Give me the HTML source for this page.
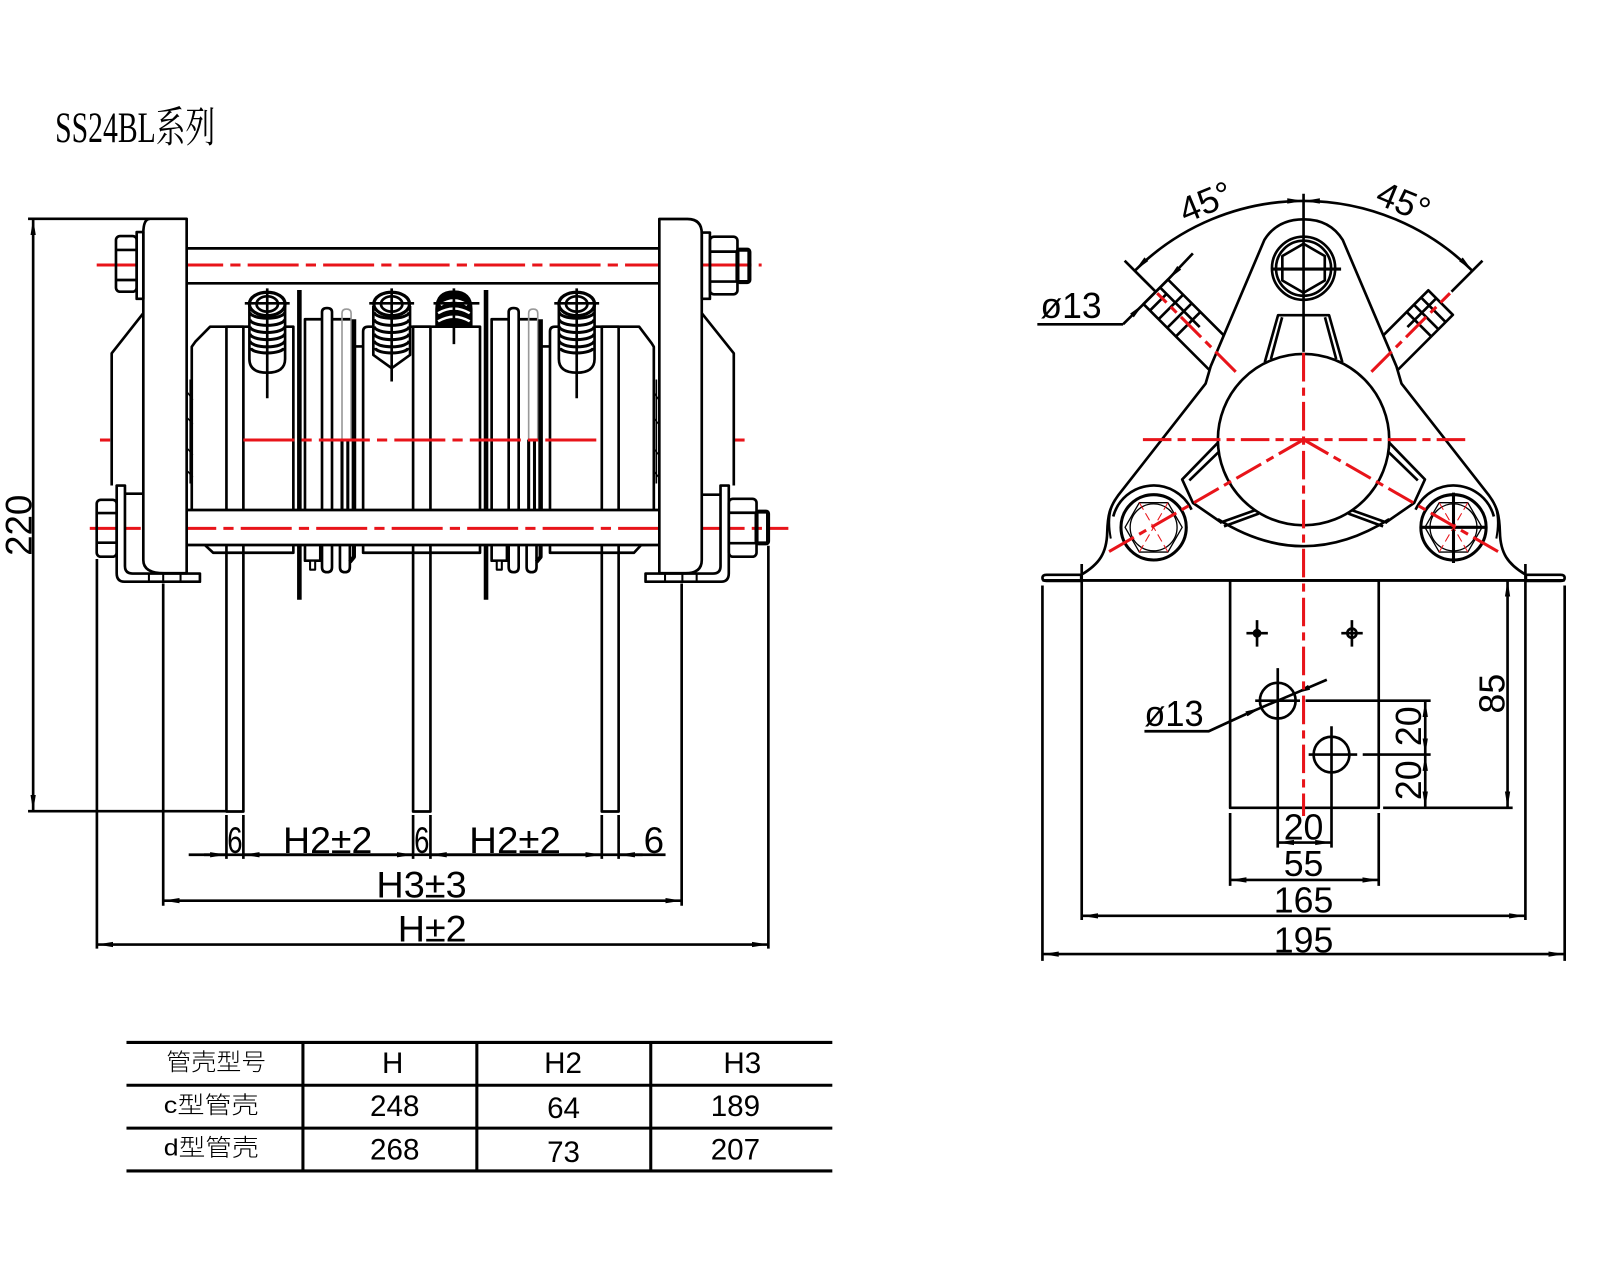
<!DOCTYPE html>
<html><head><meta charset="utf-8">
<style>
html,body{margin:0;padding:0;background:#fff;}
svg{display:block;}
text{font-family:"Liberation Sans","Noto Sans CJK SC",sans-serif;fill:#000;stroke:none;}
</style></head><body>
<svg width="1600" height="1280" viewBox="0 0 1568.63 1254.9" preserveAspectRatio="none" xmlns="http://www.w3.org/2000/svg">
<defs>
<marker id="ar" viewBox="0 0 16 6" refX="16" refY="3" markerWidth="16" markerHeight="6" markerUnits="userSpaceOnUse" orient="auto-start-reverse"><path d="M0,0.4L16,3L0,5.6z" fill="#000"/></marker>
</defs>
<rect x="0" y="0" width="1568.63" height="1254.9" fill="#fff"/>

<!-- Title -->
<text x="54" y="139" font-size="42" textLength="157" lengthAdjust="spacingAndGlyphs" style="font-family:'Liberation Serif','Noto Serif CJK SC',serif">SS24BL系列</text>

<g fill="none" stroke="#000" stroke-width="2.6" stroke-linejoin="round">

<!-- ========== LEFT DRAWING ========== -->
<!-- bodies -->
<path d="M188,500 L188,340 L191.5,335 L206,320.3 L287.6,320.3 L287.6,541.9 L209,541.9 L200.5,534 L188,534 Z" fill="#fff"/>
<path d="M356,541.9 L356,325 Q356,320.3 361,320.3 L470.6,320.3 L470.6,541.9 Z" fill="#fff"/>
<path d="M539.2,541.9 L539.2,325 Q539.2,320.3 544,320.3 L626.6,320.3 L638.9,336.6 L641,340 L641,534 L628.6,534.3 L621.6,541.9 Z" fill="#fff"/>
<path d="M346,339.6 L356,339.6 M529,339.6 L539,339.6"/>
<!-- notch lines near plates -->
<path d="M186.5,372 L186.5,474 M643.5,372 L643.5,474" stroke-width="1.6"/>
<path d="M184,385 L189,392 M184,410 L189,416 M184,440 L189,446 M184,462 L189,468 M641,385 L646,392 M641,410 L646,416 M641,440 L646,446 M641,462 L646,468" stroke-width="1.4"/>

<!-- posts -->
<rect x="222" y="320.3" width="16.6" height="475.3"/>
<rect x="405" y="320.3" width="17" height="475.3"/>
<rect x="590" y="320.3" width="16.5" height="475.3"/>

<!-- bellows zones -->
<g id="bel">
<line x1="293.5" y1="284.3" x2="293.5" y2="588" stroke-width="4.5"/>
<path d="M299,534 L299,313 L344,313"/>
<path d="M315.7,534 L315.7,306 Q315.7,302 320.6,302 Q325.5,302 325.5,306 L325.5,534" fill="#fff"/>
<path d="M335.3,431 L335.3,307 Q335.3,303 339.7,303 Q344.2,303 344.2,307 L344.2,431" stroke="#999" stroke-width="1.6"/>
<path d="M335.3,431 L335.3,534 M341,431 L341,534" stroke-width="3"/>
<line x1="347" y1="313" x2="347" y2="534" stroke-width="4.5"/>
<rect x="299" y="534" width="15" height="15.7" fill="#fff"/>
<rect x="304" y="549.7" width="5" height="8.8" fill="#fff" stroke-width="2"/>
<path d="M315.7,534 L315.7,556 Q315.7,561 320.6,561 Q325.5,561 325.5,556 L325.5,534" fill="#fff"/>
<path d="M333.3,534 L333.3,556 Q333.3,561 338.2,561 Q343,561 343,556 L343,534" fill="#fff"/>
<path d="M347,534 L347,546 L343,551" stroke-width="4"/>
</g>
<use href="#bel" transform="translate(183,0)"/>

<!-- terminals -->
<g transform="translate(262,0)">
<path d="M-17.5,300 L-17.5,352 Q-17.5,365.4 0,365.4 Q17.5,365.4 17.5,352 L17.5,300" fill="#fff"/>
<path d="M-17,306 A17,6 0 0,0 17,306 M-17,313 A17,6 0 0,0 17,313 M-17,320 A17,6 0 0,0 17,320 M-17,327 A17,6 0 0,0 17,327 M-17,334 A17,6 0 0,0 17,334 M-16,341 A16,5 0 0,0 16,341" stroke-width="3"/>
<ellipse cx="0" cy="298" rx="17.5" ry="11.5" fill="#fff" stroke-width="3.2"/>
<ellipse cx="0" cy="298" rx="10.5" ry="7.5" stroke-width="2.6"/>
<line x1="-22" y1="297.4" x2="22" y2="297.4"/>
<line x1="0" y1="282.7" x2="0" y2="390.5"/>
</g>
<g transform="translate(565.4,0)">
<path d="M-17.5,300 L-17.5,352 Q-17.5,365.4 0,365.4 Q17.5,365.4 17.5,352 L17.5,300" fill="#fff"/>
<path d="M-17,306 A17,6 0 0,0 17,306 M-17,313 A17,6 0 0,0 17,313 M-17,320 A17,6 0 0,0 17,320 M-17,327 A17,6 0 0,0 17,327 M-17,334 A17,6 0 0,0 17,334 M-16,341 A16,5 0 0,0 16,341" stroke-width="3"/>
<ellipse cx="0" cy="298" rx="17.5" ry="11.5" fill="#fff" stroke-width="3.2"/>
<ellipse cx="0" cy="298" rx="10.5" ry="7.5" stroke-width="2.6"/>
<line x1="-22" y1="297.4" x2="22" y2="297.4"/>
<line x1="0" y1="282.7" x2="0" y2="390.5"/>
</g>
<g transform="translate(384,0)">
<path d="M-18,300 L-18,348 L0,361 L18,348 L18,300" fill="#fff"/>
<path d="M-17,306 A17,6 0 0,0 17,306 M-17,313 A17,6 0 0,0 17,313 M-17,320 A17,6 0 0,0 17,320 M-17,327 A17,6 0 0,0 17,327 M-17,334 A17,6 0 0,0 17,334 M-16,341 A16,5 0 0,0 16,341" stroke-width="3"/>
<ellipse cx="0" cy="298" rx="17.5" ry="11.5" fill="#fff" stroke-width="3.2"/>
<ellipse cx="0" cy="298" rx="10.5" ry="7.5" stroke-width="2.6"/>
<line x1="-22" y1="297.4" x2="22" y2="297.4"/>
<line x1="0" y1="282.7" x2="0" y2="374"/>
</g>
<g transform="translate(445,0)">
<path d="M-17,320.3 L-17,303 Q-17,286 0,286 Q17,286 17,303 L17,320.3 Z" fill="#000"/>
<path d="M-13,299 Q0,290 13,299 M-15.5,307 Q0,298 15.5,307 M-15.5,315 Q0,306 15.5,315" stroke="#fff" stroke-width="2.4"/>
<line x1="-20" y1="297.4" x2="25" y2="297.4"/>
<line x1="0" y1="282.7" x2="0" y2="337.4"/>
</g>

<!-- rods -->
<rect x="183" y="243.5" width="463.4" height="34.3" fill="#fff"/>
<rect x="183" y="500" width="463.4" height="34.3" fill="#fff"/>

<!-- red centerlines (left) -->
<g stroke="#e8141a" stroke-width="3" stroke-dasharray="50 7 10 7">
<line x1="94.8" y1="259.8" x2="746.7" y2="259.8"/>
<line x1="88" y1="518" x2="772.9" y2="518"/>
<line x1="238.6" y1="431.4" x2="588" y2="431.4"/>
</g>
<g stroke="#e8141a" stroke-width="3">
<line x1="98" y1="431.4" x2="108" y2="431.4"/>
<line x1="720" y1="431.4" x2="730" y2="431.4"/>
</g>

<!-- brackets -->
<path d="M140.5,307 L109.5,346.4 L109.5,476"/>
<path d="M688,307 L719.4,346.4 L719.4,476"/>
<path d="M122.5,484 L140.5,484 M688,485 L706.4,485"/>
<path d="M122.5,476 L114.4,476 L114.4,562 Q114.4,570.3 122,570.3 L196,570.3 L196,562.3 L130,562.3 Q122.5,562.3 122.5,555 Z" fill="#fff"/>
<path d="M146,562.3 L146,570.3 M160,562.3 L160,570.3 M177,562.3 L177,570.3" stroke-width="2"/>
<path d="M706.4,476 L714.5,476 L714.5,562 Q714.5,570.3 707,570.3 L632.9,570.3 L632.9,562.3 L699,562.3 Q706.4,562.3 706.4,555 Z" fill="#fff"/>
<path d="M683,562.3 L683,570.3 M669,562.3 L669,570.3 M652,562.3 L652,570.3" stroke-width="2"/>

<!-- plates -->
<path d="M147,214.5 L183,214.5 L183,562 L161,562 Q140.5,562 140.5,549 L140.5,229 Q140.5,214.5 147,214.5 Z" fill="#fff"/>
<path d="M646.4,214.7 L674,214.7 Q688,214.7 688,229 L688,549 Q688,562 672,562 L646.4,562 Z" fill="#fff"/>

<!-- nuts & washers -->
<rect x="134" y="227.5" width="6.5" height="65.5" fill="#fff"/>
<rect x="113.7" y="231.4" width="20.3" height="54.6" rx="4"/>
<path d="M113.7,245 L134,245 M113.7,274.5 L134,274.5"/>
<rect x="688" y="228" width="8" height="65"/>
<rect x="696" y="232" width="27" height="56.5" rx="4"/>
<path d="M696,246.7 L723,246.7 M696,276 L723,276"/>
<rect x="723" y="244.8" width="11.7" height="31.7" rx="2" stroke-width="4"/>
<rect x="94.8" y="490" width="19.6" height="55.8" rx="4"/>
<path d="M94.8,503 L114.4,503 M94.8,532 L114.4,532"/>
<rect x="714.5" y="489" width="27.2" height="56.8" rx="4"/>
<path d="M714.5,502.7 L741.7,502.7 M714.5,532.5 L741.7,532.5"/>
<rect x="741.7" y="501.6" width="11.3" height="31.1" rx="2" stroke-width="4"/>

<!-- 220 dim -->
<line x1="27.5" y1="214.5" x2="147" y2="214.5"/>
<line x1="27.5" y1="795.3" x2="222" y2="795.3"/>
<line x1="32.5" y1="214.5" x2="32.5" y2="795.3" marker-start="url(#ar)" marker-end="url(#ar)"/>

<!-- bottom dims -->
<path d="M222,799 L222,842 M238.6,799 L238.6,842 M405,799 L405,842 M422,799 L422,842 M590,799 L590,842 M606.5,799 L606.5,842"/>
<line x1="185" y1="838" x2="652.5" y2="838"/>
<line x1="200" y1="838" x2="222" y2="838" marker-end="url(#ar)"/>
<line x1="238.6" y1="838" x2="405" y2="838" marker-start="url(#ar)" marker-end="url(#ar)"/>
<line x1="422" y1="838" x2="590" y2="838" marker-start="url(#ar)" marker-end="url(#ar)"/>
<line x1="630" y1="838" x2="606.5" y2="838" marker-end="url(#ar)"/>
<path d="M160,572 L160,888 M668.3,572 L668.3,888"/>
<line x1="160" y1="883" x2="668.3" y2="883" marker-start="url(#ar)" marker-end="url(#ar)"/>
<path d="M95,548 L95,930 M753.3,535 L753.3,930"/>
<line x1="95" y1="926" x2="753.3" y2="926" marker-start="url(#ar)" marker-end="url(#ar)"/>

<!-- ========== RIGHT DRAWING ========== -->
<!-- tubes -->
<g transform="translate(1278,431) rotate(-135)">
<rect x="112" y="-17" width="93" height="34" fill="#fff"/>
<path d="M150,6 L205,6 M160,-17 L160,17 M172,-17 L172,17 M184,-17 L184,17 M196,-17 L196,6"/>
</g>
<g transform="translate(1278,431) rotate(-45)">
<rect x="112" y="-17" width="78" height="34" fill="#fff"/>
<path d="M150,-6 L190,-6 M160,-17 L160,17 M170,-17 L170,17 M180,-17 L180,17"/>
</g>
<!-- outer contour -->
<path d="M1060,563.5 C1078,553 1085,542 1085.5,522 C1086,505 1088,497 1096,486 L1182,376 L1187,359 L1239.5,235.4 Q1252,215 1278,215 Q1304,215 1316.5,235.4 L1369,359 L1374,376 L1460,486 C1468,497 1470,505 1470.5,522 C1471,542 1478,553 1496,563.5 L1496,569 L1060,569 Z" fill="#fff"/>
<path d="M1093,490 C1087,500 1086,512 1089,528 M1463,490 C1469,500 1470,512 1467,528" stroke-width="2"/>
<!-- tabs & base -->
<path d="M1060,563.5 L1026,563.5 Q1022,563.5 1022,566.5 Q1022,569.5 1026,569.5 L1060,569.5"/>
<path d="M1496,563.5 L1530,563.5 Q1534,563.5 1534,566.5 Q1534,569.5 1530,569.5 L1496,569.5"/>
<line x1="1022" y1="569" x2="1534" y2="569"/>
<!-- lobes -->
<path d="M1091.4,506.4 A41,41 0 0,1 1168.2,499.7"/>
<path d="M1464.6,506.4 A41,41 0 0,0 1387.8,499.7"/>
<!-- boss -->
<path d="M1240,355 L1253,309 L1303,309 L1316,355"/>
<path d="M1246,352 L1257,311 M1310,352 L1299,311"/>
<!-- wings -->
<path d="M1194,434 L1159,470 L1169.5,493 L1197,512"/>
<path d="M1198,440 L1166,471"/>
<path d="M1362,434 L1397,470 L1386.5,493 L1359,512"/>
<path d="M1358,440 L1390,471"/>
<path d="M1196,512.5 L1232.5,499.5 M1200,516 L1234,503.5 M1360,512.5 L1323.5,499.5 M1356,516 L1322,503.5"/>
<!-- lower arc -->
<path d="M1194,509 Q1278,562 1362,509"/>
<!-- big circle -->
<circle cx="1278" cy="431" r="84" fill="#fff"/>
<!-- top bolt -->
<circle cx="1278" cy="263" r="31" fill="#fff"/>
<circle cx="1278" cy="263" r="27"/>
<path d="M1278,239 L1298.8,251 L1298.8,275 L1278,287 L1257.2,275 L1257.2,251 Z"/>
<line x1="1246.5" y1="263.8" x2="1314.8" y2="263.8" stroke-width="3"/>
<line x1="1278" y1="190" x2="1278" y2="345"/>
<!-- bottom bolts -->
<circle cx="1131" cy="517" r="32" fill="#fff" stroke-width="3"/>
<path d="M1159,517 L1145,541.2 L1117,541.2 L1103,517 L1117,492.8 L1145,492.8 Z" stroke-width="1.3"/>
<circle cx="1131" cy="517" r="23" stroke-width="1.3"/>
<circle cx="1425" cy="517" r="32" fill="#fff" stroke-width="3"/>
<path d="M1453,517 L1439,541.2 L1411,541.2 L1397,517 L1411,492.8 L1439,492.8 Z" stroke-width="1.3"/>
<circle cx="1425" cy="517" r="23" stroke-width="1.3"/>
<path d="M1392,517 L1458,517 M1425,483 L1425,552" stroke-width="3"/>

<!-- angle dims -->
<path d="M1112.5,265.5 A234,234 0 0,1 1278,197" marker-start="url(#ar)" marker-end="url(#ar)"/>
<path d="M1278,197 A234,234 0 0,1 1443.5,265.5" marker-start="url(#ar)" marker-end="url(#ar)"/>
<line x1="1133" y1="286" x2="1102.6" y2="255.6"/>
<line x1="1423" y1="286" x2="1453.4" y2="255.6"/>
<!-- ø13 top -->
<line x1="1169.5" y1="248.4" x2="1145.1" y2="274.1" marker-end="url(#ar)"/>
<line x1="1145.1" y1="274.1" x2="1121.1" y2="298.1"/>
<line x1="1101" y1="318" x2="1121.1" y2="298.1" marker-end="url(#ar)"/>
<line x1="1017" y1="318" x2="1101" y2="318"/>

<!-- base plate view -->
<rect x="1206" y="569" width="145.7" height="223"/>
<path d="M1222,620.8 L1243,620.8 M1232.4,608 L1232.4,634 M1315,620.8 L1336,620.8 M1325.4,608 L1325.4,634"/>
<circle cx="1232.4" cy="620.8" r="3" fill="#000"/>
<circle cx="1325.4" cy="620.8" r="4.5"/>
<circle cx="1252.7" cy="686.9" r="17.5"/>
<path d="M1230.6,686.9 L1274.5,686.9 M1252.7,655 L1252.7,831"/>
<circle cx="1305.4" cy="739.8" r="17.5"/>
<path d="M1283,739.8 L1330.6,739.8 M1305.4,712 L1305.4,831"/>
<!-- ø13 bottom leader -->
<path d="M1122,716.9 L1185,716.9 L1221.8,700"/>
<line x1="1221.8" y1="700" x2="1236.6" y2="693.7" marker-end="url(#ar)"/>
<line x1="1300.8" y1="666.4" x2="1268.8" y2="680.1" marker-end="url(#ar)"/>
<line x1="1236.6" y1="693.7" x2="1268.8" y2="680.1"/>
<!-- right dims -->
<path d="M1280,686.9 L1402.6,686.9 M1336,739.8 L1402.6,739.8 M1356,792 L1483,792"/>
<line x1="1397.3" y1="686.9" x2="1397.3" y2="739.8" marker-start="url(#ar)" marker-end="url(#ar)"/>
<line x1="1397.3" y1="739.8" x2="1397.3" y2="792" marker-start="url(#ar)" marker-end="url(#ar)"/>
<line x1="1478" y1="569" x2="1478" y2="792" marker-start="url(#ar)" marker-end="url(#ar)"/>
<!-- bottom dims -->
<line x1="1252.7" y1="826" x2="1305.4" y2="826" marker-start="url(#ar)" marker-end="url(#ar)"/>
<path d="M1206,797 L1206,868.5 M1351.7,797 L1351.7,868.5"/>
<line x1="1206" y1="862.7" x2="1351.7" y2="862.7" marker-start="url(#ar)" marker-end="url(#ar)"/>
<path d="M1060.5,553 L1060.5,902 M1495.5,553 L1495.5,902"/>
<line x1="1060.5" y1="897.9" x2="1495.5" y2="897.9" marker-start="url(#ar)" marker-end="url(#ar)"/>
<path d="M1022,574 L1022,942 M1534,574 L1534,942"/>
<line x1="1022" y1="935.4" x2="1534" y2="935.4" marker-start="url(#ar)" marker-end="url(#ar)"/>

<!-- red right -->
<g stroke="#e8141a" stroke-width="3" stroke-dasharray="28 6 8 6">
<line x1="1120.5" y1="431" x2="1437" y2="431"/>
<line x1="1278" y1="346" x2="1278" y2="800"/>
<line x1="1278" y1="431" x2="1085.5" y2="541.8"/>
<line x1="1278" y1="431" x2="1470.5" y2="541.8"/>
<line x1="1211.5" y1="364.5" x2="1134.5" y2="287.5"/>
<line x1="1344.5" y1="364.5" x2="1421.5" y2="287.5"/>
</g>
<g stroke="#e8141a" stroke-width="1" stroke-dasharray="8 4">
<path d="M1117,492.8 L1145,541.2 M1145,492.8 L1117,541.2 M1411,492.8 L1439,541.2 M1439,492.8 L1411,541.2"/>
</g>

<!-- ========== TABLE ========== -->
<g stroke-width="3">
<line x1="124" y1="1022" x2="816" y2="1022"/>
<line x1="124" y1="1064" x2="816" y2="1064"/>
<line x1="124" y1="1106" x2="816" y2="1106"/>
<line x1="124" y1="1148" x2="816" y2="1148"/>
<line x1="297" y1="1022" x2="297" y2="1148"/>
<line x1="467.5" y1="1022" x2="467.5" y2="1148"/>
<line x1="638" y1="1022" x2="638" y2="1148"/>
</g>
</g>

<!-- ===== TEXTS ===== -->
<g font-size="36">
<text x="230.3" y="836.4" text-anchor="middle" textLength="15" lengthAdjust="spacingAndGlyphs">6</text>
<text x="277.5" y="836.4" textLength="87.5" lengthAdjust="spacingAndGlyphs">H2±2</text>
<text x="413.5" y="836.4" text-anchor="middle" textLength="15" lengthAdjust="spacingAndGlyphs">6</text>
<text x="460" y="836.4" textLength="90" lengthAdjust="spacingAndGlyphs">H2±2</text>
<text x="641" y="836.4" text-anchor="middle">6</text>
<text x="369" y="880" textLength="88.5" lengthAdjust="spacingAndGlyphs">H3±3</text>
<text x="390" y="922.8" textLength="67.5" lengthAdjust="spacingAndGlyphs">H±2</text>
<text transform="translate(31,515) rotate(-90)" text-anchor="middle">220</text>
</g>
<g font-size="35">
<text x="1278" y="823" text-anchor="middle">20</text>
<text x="1278" y="858.7" text-anchor="middle">55</text>
<text x="1278" y="894.6" text-anchor="middle">165</text>
<text x="1278" y="933.7" text-anchor="middle">195</text>
<text transform="translate(1475,680) rotate(-90)" text-anchor="middle">85</text>
<text transform="translate(1393,712) rotate(-90)" text-anchor="middle">20</text>
<text transform="translate(1393,765) rotate(-90)" text-anchor="middle">20</text>
<text x="1122" y="712" textLength="58" lengthAdjust="spacingAndGlyphs">ø13</text>
<text x="1020" y="312" textLength="60" lengthAdjust="spacingAndGlyphs">ø13</text>
<text transform="translate(1186.6,209) rotate(-22.5)" text-anchor="middle">45°</text>
<text transform="translate(1371.4,209) rotate(22.5)" text-anchor="middle">45°</text>
</g>
<g font-size="23" style="font-weight:300">
<text x="163" y="1049" textLength="98" lengthAdjust="spacingAndGlyphs">管壳型号</text>
<text x="160.6" y="1091" textLength="93" lengthAdjust="spacingAndGlyphs">c型管壳</text>
<text x="160.6" y="1133" textLength="93" lengthAdjust="spacingAndGlyphs">d型管壳</text>
</g>
<g font-size="29" text-anchor="middle">
<text x="385" y="1052">H</text>
<text x="552" y="1052">H2</text>
<text x="727.8" y="1052">H3</text>
<text x="387" y="1094">248</text>
<text x="552.5" y="1096">64</text>
<text x="721" y="1094">189</text>
<text x="387" y="1137">268</text>
<text x="552.5" y="1139">73</text>
<text x="721" y="1137">207</text>
</g>
</svg>
</body></html>
